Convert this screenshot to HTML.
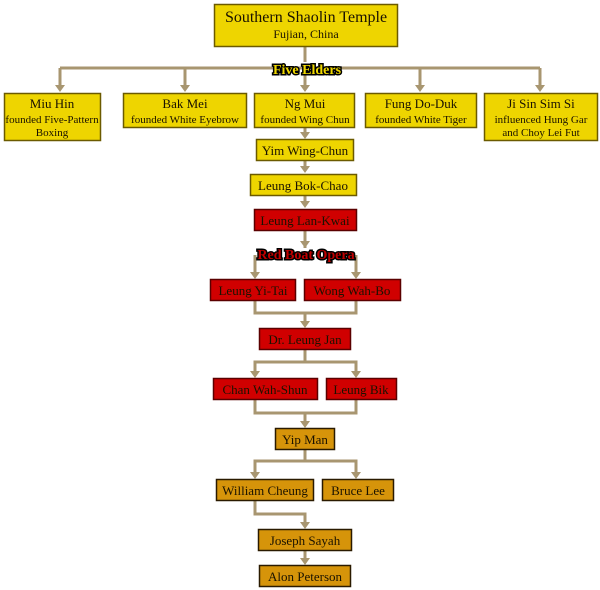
<!DOCTYPE html>
<html><head><meta charset="utf-8"><style>
html,body{margin:0;padding:0;background:#fff;}
svg{display:block;}
text{font-family:"Liberation Serif",serif;text-anchor:middle;fill:#1a1200;}
.y{fill:#EED500;stroke:#6b5a00;stroke-width:1.5;}
.r{fill:#D00000;stroke:#5a0000;stroke-width:1.5;}
.o{fill:#D6940A;stroke:#2a1a00;stroke-width:1.5;}
.l{stroke:#A89670;stroke-width:3;fill:none;}
.a{fill:#A89670;}
</style></head><body>
<svg width="600" height="590" viewBox="0 0 600 590" xmlns="http://www.w3.org/2000/svg">
<!-- lines -->
<path class="l" d="M305 46V62 M60 68H540 M60 68V86 M185 68V86 M305 68V86 M420 68V86 M540 68V86"/>
<path class="l" d="M305 127V134 M305 161V168 M305 196V203 M305 230V248 M305 248V246"/>
<path class="l" d="M255 255V273 M356 255V273"/>
<path class="l" d="M255 300V313H356V300 M305 313V322"/>
<path class="l" d="M305 350V362H255V372 M305 362H356V372"/>
<path class="l" d="M255 400V413H356V400 M305 413V422"/>
<path class="l" d="M305 450V461H255V473 M305 461H356V473"/>
<path class="l" d="M255 501V514H305V523 M305 551V559"/>
<!-- arrowheads -->
<g class="a">
<polygon points="55,85 65,85 60,92"/><polygon points="180,85 190,85 185,92"/><polygon points="300,85 310,85 305,92"/><polygon points="415,85 425,85 420,92"/><polygon points="535,85 545,85 540,92"/>
<polygon points="300,132 310,132 305,139"/><polygon points="300,166 310,166 305,173"/><polygon points="300,201 310,201 305,208"/>
<polygon points="300,241 310,241 305,248"/>
<polygon points="250,272 260,272 255,279"/><polygon points="351,272 361,272 356,279"/>
<polygon points="300,321 310,321 305,328"/>
<polygon points="250,371 260,371 255,378"/><polygon points="351,371 361,371 356,378"/>
<polygon points="300,421 310,421 305,428"/>
<polygon points="250,472 260,472 255,479"/><polygon points="351,472 361,472 356,479"/>
<polygon points="300,522 310,522 305,529"/><polygon points="300,558 310,558 305,565"/>
</g>
<!-- boxes -->
<rect class="y" x="214.5" y="4.5" width="183" height="42"/>
<text x="306" y="22" font-size="16">Southern Shaolin Temple</text>
<text x="306" y="38" font-size="12">Fujian, China</text>
<text x="307" y="74" font-size="14" font-weight="bold" style="fill:#F0D800;stroke:#000;stroke-width:3;paint-order:stroke">Five Elders</text>

<rect class="y" x="4.5" y="93.5" width="96" height="47"/>
<text x="52" y="108" font-size="13">Miu Hin</text><text x="52" y="123" font-size="11">founded Five-Pattern</text><text x="52" y="136" font-size="11">Boxing</text>
<rect class="y" x="123.5" y="93.5" width="123" height="34"/>
<text x="185" y="108" font-size="13">Bak Mei</text><text x="185" y="123" font-size="11">founded White Eyebrow</text>
<rect class="y" x="254.5" y="93.5" width="100" height="34"/>
<text x="305" y="108" font-size="13">Ng Mui</text><text x="305" y="123" font-size="11">founded Wing Chun</text>
<rect class="y" x="365.5" y="93.5" width="111" height="34"/>
<text x="421" y="108" font-size="13">Fung Do-Duk</text><text x="421" y="123" font-size="11">founded White Tiger</text>
<rect class="y" x="484.5" y="93.5" width="113" height="47"/>
<text x="541" y="108" font-size="13">Ji Sin Sim Si</text><text x="541" y="123" font-size="11">influenced Hung Gar</text><text x="541" y="136" font-size="11">and Choy Lei Fut</text>

<rect class="y" x="256.5" y="139.5" width="97" height="21"/><text x="305" y="155" font-size="13">Yim Wing-Chun</text>
<rect class="y" x="250.5" y="174.5" width="106" height="21"/><text x="303" y="190" font-size="13">Leung Bok-Chao</text>
<rect class="r" x="254.5" y="209.5" width="102" height="21"/><text x="305" y="225" font-size="13">Leung Lan-Kwai</text>
<text x="306" y="259" font-size="14" font-weight="bold" style="fill:#C00000;stroke:#000;stroke-width:3;paint-order:stroke">Red Boat Opera</text>
<rect class="r" x="210.5" y="279.5" width="85" height="21"/><text x="253" y="295" font-size="13">Leung Yi-Tai</text>
<rect class="r" x="304.5" y="279.5" width="96" height="21"/><text x="352" y="295" font-size="13">Wong Wah-Bo</text>
<rect class="r" x="259.5" y="328.5" width="91" height="21"/><text x="305" y="344" font-size="13">Dr. Leung Jan</text>
<rect class="r" x="213.5" y="378.5" width="104" height="21"/><text x="265" y="394" font-size="13">Chan Wah-Shun</text>
<rect class="r" x="326.5" y="378.5" width="70" height="21"/><text x="361" y="394" font-size="13">Leung Bik</text>
<rect class="o" x="275.5" y="428.5" width="59" height="21"/><text x="305" y="444" font-size="13">Yip Man</text>
<rect class="o" x="216.5" y="479.5" width="97" height="21"/><text x="265" y="495" font-size="13">William Cheung</text>
<rect class="o" x="322.5" y="479.5" width="71" height="21"/><text x="358" y="495" font-size="13">Bruce Lee</text>
<rect class="o" x="258.5" y="529.5" width="93" height="21"/><text x="305" y="545" font-size="13">Joseph Sayah</text>
<rect class="o" x="259.5" y="565.5" width="91" height="21"/><text x="305" y="581" font-size="13">Alon Peterson</text>
</svg>
</body></html>
